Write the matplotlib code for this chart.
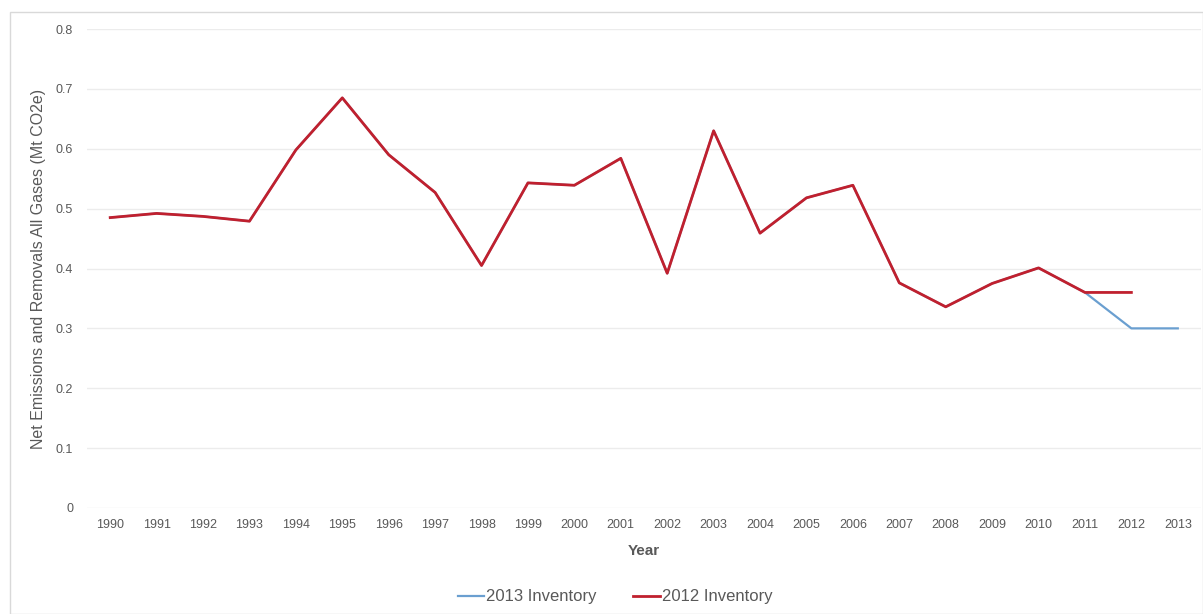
import matplotlib
matplotlib.use("Agg")
import matplotlib.pyplot as plt
from matplotlib.patches import Rectangle

###---------------------- data ----------------------###
years = [str(y) for y in range(1990, 2014)]
inv2012 = [0.485, 0.492, 0.487, 0.479, 0.598, 0.685, 0.590, 0.527, 0.405, 0.543,
           0.539, 0.584, 0.392, 0.630, 0.459, 0.518, 0.539, 0.376, 0.336, 0.375,
           0.401, 0.360, 0.360]
inv2013 = [0.485, 0.492, 0.487, 0.479, 0.598, 0.685, 0.590, 0.527, 0.405, 0.543,
           0.539, 0.584, 0.392, 0.630, 0.459, 0.518, 0.539, 0.376, 0.336, 0.375,
           0.401, 0.360, 0.300, 0.300]
yticks = [0, 0.1, 0.2, 0.3, 0.4, 0.5, 0.6, 0.7, 0.8]
ytick_labels = ["0", "0.1", "0.2", "0.3", "0.4", "0.5", "0.6", "0.7", "0.8"]

plt.rcParams['font.family'] = ['Liberation Sans', 'DejaVu Sans']
txt = '#595959'

fig = plt.figure(figsize=(12.03, 6.14), dpi=100)
fig.patches.append(Rectangle((10/1203, 0), 1 - 10/1203, 1 - 12/614,
                             transform=fig.transFigure, fill=False,
                             edgecolor='#d9d9d9', linewidth=1))
ax = fig.add_axes([87/1203, 1 - 508/614, (1201 - 87)/1203, 479/614])

x13 = list(range(len(inv2013)))
x12 = list(range(len(inv2012)))
ax.plot(x13, inv2013, color='#6a9fd0', linewidth=1.6, label='2013 Inventory')
ax.plot(x12, inv2012, color='#c0202e', linewidth=2.0, label='2012 Inventory')

ax.set_xlim(-0.5, len(years) - 0.5)
ax.set_ylim(0, 0.8)
ax.set_xticks(range(len(years)))
ax.set_xticklabels(years)
ax.set_yticks(yticks)
ax.set_yticklabels(ytick_labels)
ax.tick_params(axis='both', length=0, labelsize=9, colors=txt)
ax.tick_params(axis='x', pad=8)
ax.tick_params(axis='y', pad=10)
ax.grid(axis='y', color='#ececec', linewidth=1)
ax.set_axisbelow(True)
for s in ax.spines.values():
    s.set_visible(False)

ax.set_xlabel('Year', fontsize=11, color=txt, fontweight='bold', labelpad=9)
ax.set_ylabel('Net Emissions and Removals All Gases (Mt CO2e)', fontsize=11.5,
              color=txt, labelpad=7)

leg = fig.legend(loc='center', bbox_to_anchor=(615/1203, 1 - 597/614), ncol=2,
                 frameon=False, fontsize=12, handlelength=1.6, handletextpad=0.1,
                 columnspacing=2.2)
for t in leg.get_texts():
    t.set_color(txt)

fig.savefig('out.png', dpi=100)
